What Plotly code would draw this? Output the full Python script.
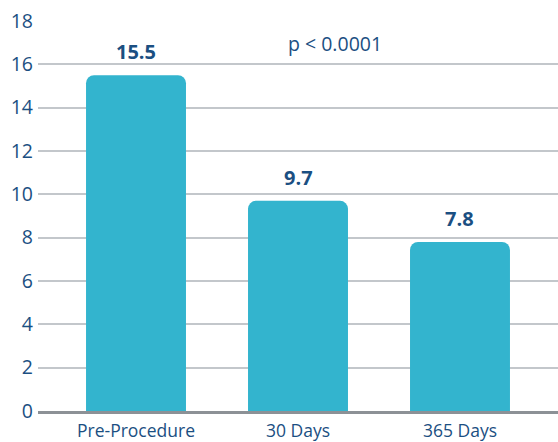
import plotly.graph_objects as go

categories = ["Pre-Procedure", "30 Days", "365 Days"]
values = [15.5, 9.7, 7.8]
labels = ["15.5", "9.7", "7.8"]
p_text = "p < 0.0001"

blue_text = "#1B4F82"
bar_color = "#33B4CE"

fig = go.Figure()
fig.add_trace(go.Bar(
    x=categories, y=values, marker=dict(color=bar_color, cornerradius=8, line=dict(width=0)),
    width=0.617, hoverinfo="skip",
))

for c, v, t in zip(categories, values, labels):
    fig.add_annotation(x=c, y=v, text=f"<b>{t}</b>", showarrow=False, yanchor="bottom",
                       yshift=8, font=dict(size=20, color=blue_text, family="Open Sans"))

fig.add_annotation(x=1.228, y=16.94, text=p_text, showarrow=False, xanchor="center", yanchor="middle",
                   font=dict(size=19.5, color=blue_text, family="Open Sans"))

fig.update_layout(
    width=558, height=442,
    margin=dict(l=38, r=0, t=21, b=31),
    plot_bgcolor="white", paper_bgcolor="white",
    showlegend=False,
    font=dict(family="Open Sans", color=blue_text),
)
fig.update_xaxes(range=[-0.605, 2.605], showline=True, linecolor="#8C9196", linewidth=3,
                 showgrid=False, ticks="", ticklabelstandoff=2, automargin=False,
                 tickfont=dict(size=17.5, color=blue_text))
fig.update_yaxes(range=[0, 18], dtick=2, showgrid=True, gridcolor="#C3C7CB", gridwidth=1.5,
                 zeroline=False, ticks="", ticklabelstandoff=4, automargin=False,
                 tickfont=dict(size=19.5, color=blue_text))

fig.write_html("out.html")
